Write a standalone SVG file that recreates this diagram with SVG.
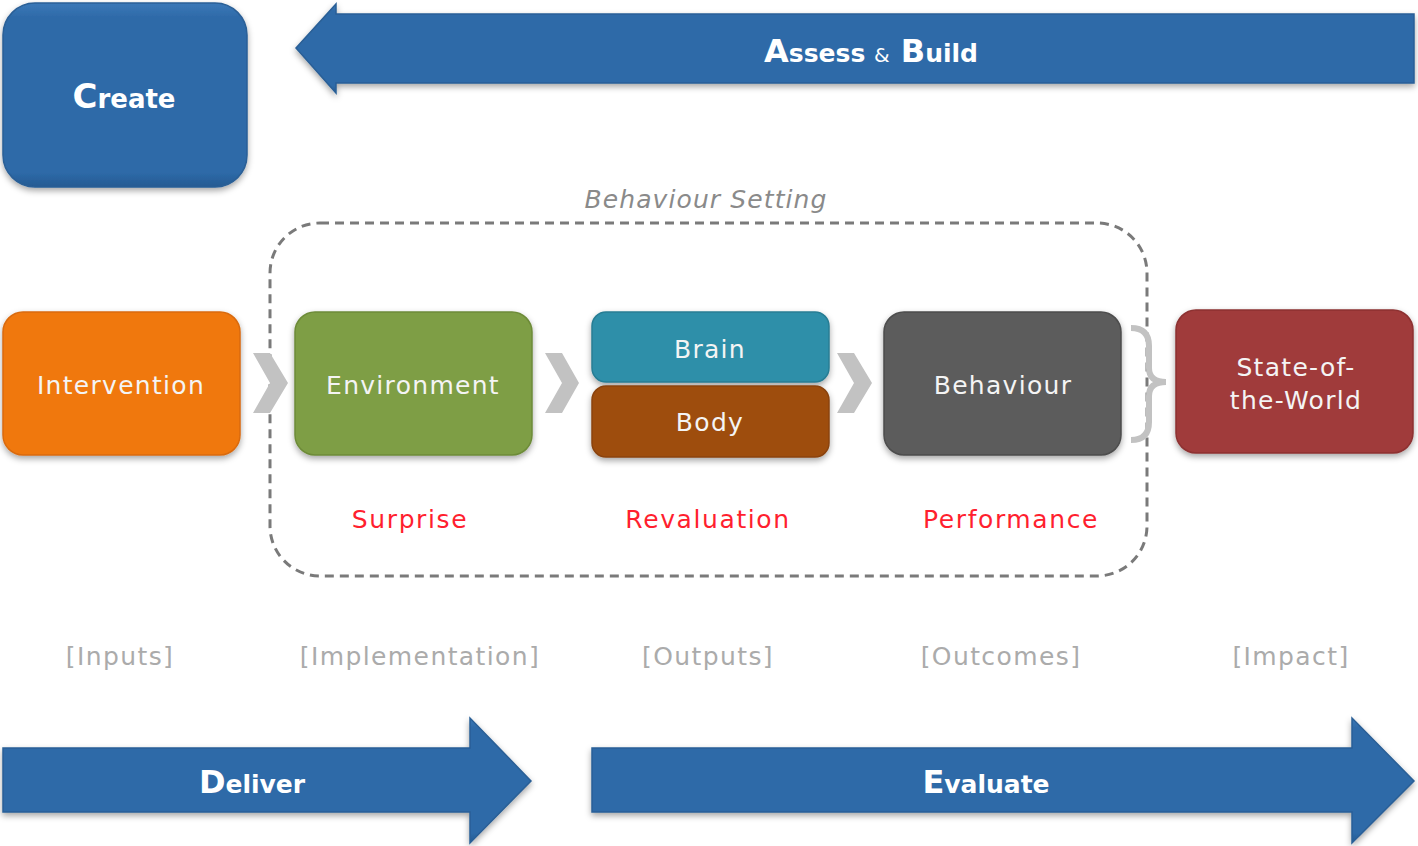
<svg xmlns="http://www.w3.org/2000/svg" width="1418" height="846" viewBox="0 0 1418 846">
<defs>
<filter id="sh" x="-10%" y="-10%" width="120%" height="130%">
<feDropShadow dx="0" dy="3" stdDeviation="3" flood-color="#000" flood-opacity="0.35"/>
</filter>
<linearGradient id="gBlue" x1="0" y1="0" x2="0" y2="1">
<stop offset="0" stop-color="#3a78b8"/><stop offset="0.08" stop-color="#2e6aa8"/><stop offset="0.92" stop-color="#2e6aa8"/><stop offset="1" stop-color="#245a92"/>
</linearGradient>
</defs>
<style>
.bt{font-family:"DejaVu Sans","Liberation Sans",sans-serif;font-weight:bold;fill:#fff;text-anchor:middle}
.nt{font-family:"DejaVu Sans","Liberation Sans",sans-serif;font-size:25px;letter-spacing:1.3px;fill:#f4f4f4;text-anchor:middle}
.red{font-family:"DejaVu Sans","Liberation Sans",sans-serif;font-size:25px;letter-spacing:1.6px;fill:#ff1f2f;text-anchor:middle}
.gry{font-family:"DejaVu Sans","Liberation Sans",sans-serif;font-size:25px;letter-spacing:1.4px;fill:#ababab;text-anchor:middle}
.box{filter:url(#sh);stroke-width:1.5}
.chev{fill:#c2c2c2}
</style>

<g id="behaviour-setting">
<rect x="270" y="223" width="877" height="353" rx="50" fill="none" stroke="#7a7a7a" stroke-width="3" stroke-dasharray="9,6"/>
<text x="706" y="208" font-family="DejaVu Sans, Liberation Sans, sans-serif" font-size="25" font-style="italic" letter-spacing="1.1" fill="#8a8a8a" text-anchor="middle">Behaviour Setting</text>
</g>

<g id="create">
<rect class="box" x="3" y="3" width="244" height="184" rx="32" fill="url(#gBlue)" stroke="#2a5f96"/>
<text class="bt" x="124" y="108"><tspan font-size="34">C</tspan><tspan font-size="26">reate</tspan></text>
</g>

<g id="assess-build">
<path class="box" d="M296,48 L336,4 L336,14 L1414,14 L1414,83 L336,83 L336,93 Z" fill="url(#gBlue)" stroke="#2a5f96"/>
<text class="bt" x="871" y="62"><tspan font-size="32">A</tspan><tspan font-size="25">ssess </tspan><tspan font-size="20" font-weight="normal">&amp;</tspan><tspan font-size="32"> B</tspan><tspan font-size="25">uild</tspan></text>
</g>

<g id="intervention">
<rect class="box" x="3" y="312" width="237" height="143" rx="20" fill="#f07811" stroke="#d96a0c"/>
<text class="nt" x="121" y="394">Intervention</text>
</g>

<g id="environment">
<rect class="box" x="295" y="312" width="237" height="143" rx="20" fill="#7e9e44" stroke="#6d8b39"/>
<text class="nt" x="413" y="394">Environment</text>
</g>

<g id="brain">
<rect class="box" x="592" y="312" width="237" height="70" rx="14" fill="#2f8fa9" stroke="#287d94"/>
<text class="nt" x="710" y="358">Brain</text>
</g>

<g id="body">
<rect class="box" x="592" y="386" width="237" height="71" rx="14" fill="#9e4e10" stroke="#8a430c"/>
<text class="nt" x="710" y="431">Body</text>
</g>

<g id="behaviour">
<rect class="box" x="884" y="312" width="237" height="143" rx="20" fill="#5b5b5b" stroke="#4d4d4d"/>
<text class="nt" x="1003" y="394">Behaviour</text>
</g>

<g id="state-of-the-world">
<rect class="box" x="1176" y="310" width="237" height="143" rx="20" fill="#a03a3a" stroke="#8c3131"/>
<text class="nt" x="1296" y="376">State-of-</text>
<text class="nt" x="1296" y="409">the-World</text>
</g>

<g id="connectors">
<polygon class="chev" points="253,353 270,353 288,383 270,413 253,413 270,383"/>
<polygon class="chev" points="545,353 562,353 579,383 562,413 545,413 562,383"/>
<polygon class="chev" points="837,353 854,353 872,383 854,413 837,413 854,383"/>
<path d="M1131,328 Q1149,328 1149,346 L1149,368 Q1149,382 1166,382 Q1149,382 1149,396 L1149,422 Q1149,440 1131,440" fill="none" stroke="#c2c2c2" stroke-width="6"/>
</g>

<g id="labels">
<text class="red" x="410" y="528">Surprise</text>
<text class="red" x="708" y="528">Revaluation</text>
<text class="red" x="1011" y="528">Performance</text>
<text class="gry" x="120" y="665">[Inputs]</text>
<text class="gry" x="420" y="665">[Implementation]</text>
<text class="gry" x="708" y="665">[Outputs]</text>
<text class="gry" x="1001" y="665">[Outcomes]</text>
<text class="gry" x="1291" y="665">[Impact]</text>
</g>

<g id="deliver">
<path class="box" d="M3,748 L470,748 L470,718 L531,781 L470,843 L470,812 L3,812 Z" fill="url(#gBlue)" stroke="#2a5f96"/>
<text class="bt" x="252" y="793"><tspan font-size="32">D</tspan><tspan font-size="25">eliver</tspan></text>
</g>

<g id="evaluate">
<path class="box" d="M592,748 L1352,748 L1352,718 L1414,781 L1352,843 L1352,812 L592,812 Z" fill="url(#gBlue)" stroke="#2a5f96"/>
<text class="bt" x="986" y="793"><tspan font-size="32">E</tspan><tspan font-size="25">valuate</tspan></text>
</g>
</svg>
